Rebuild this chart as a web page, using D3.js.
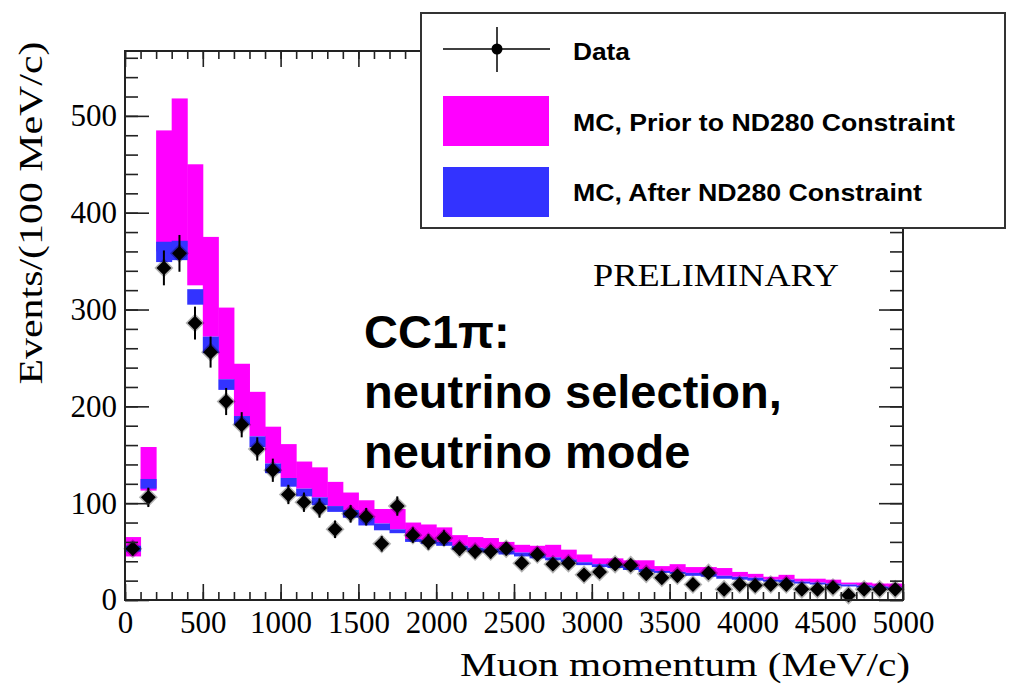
<!DOCTYPE html>
<html>
<head>
<meta charset="utf-8">
<script src="https://cdn.jsdelivr.net/npm/d3@7"></script>
<style>
  body { margin: 0; background: #fff; }
  svg { display: block; }
</style>
</head>
<body>
<div id="chart"></div>
<script>
// bins of 100 MeV/c, low edges
var binLow = [0,100,200,300,400,500,600,700,800,900,1000,1100,1200,1300,1400,1500,1600,1700,1800,1900,
              2000,2100,2200,2300,2400,2500,2600,2700,2800,2900,3000,3100,3200,3300,3400,3500,3600,3700,3800,3900,
              4000,4100,4200,4300,4400,4500,4600,4700,4800,4900];
var binWidth = 100;

var dataCounts = [53,106,343,358,286,256,205,181,156,134,109,101,95,73,89,86,58,97,67,60,
                  64,53,50,50,53,38,47,37,38,26,29,37,36,27,23,25,16,28,11,16,
                  15,16,16,11,11,13,5,11,11,11];
var dataErr = [7,10,18,19,17,16,14,13,12,12,10,10,10,9,9,9,8,10,8,8,
               8,7,7,7,7,6,7,6,6,5,5,6,6,5,5,5,4,5,3,4,
               4,4,4,3,3,4,2,3,3,3];

// MC prior to ND280 constraint (error band low / high)
var priorLow  = [45,113,360,365,325,272,228,190,169,141,126,115,106,97,93,85,79,73,63,62,
                 60,56,54,53,51,49,47,44,42,39,37,36,34,32,30,29,28,27,25,24,
                 23,21,21,19,18,17,16,15,14,13];
var priorHigh = [65,158,485,518,450,375,302,244,215,179,161,143,137,122,111,103,94,94,80,78,
                 75,67,65,64,60,57,56,57,52,47,43,43,41,41,35,37,34,34,33,29,
                 27,24,26,22,22,21,18,18,17,17];

// MC after ND280 constraint (error band low / high)
var afterLow  = [50,115,349,351,305,255,217,181,158,131,117,107,98,91,85,77,72,69,60,58,
                 56,52,50,49,47,45,43,41,39,36,34,33,31,29,28,27,25,24,22,21,
                 20,19,18,17,16,15,14,13,12,11];
var afterHigh = [56,125,370,371,321,272,228,190,169,141,126,115,106,97,93,85,79,73,63,62,
                 60,56,54,53,51,49,47,44,42,39,37,36,34,32,30,29,28,27,25,24,
                 23,21,21,19,18,17,16,15,14,13];

var xTicks = [0,500,1000,1500,2000,2500,3000,3500,4000,4500,5000];
var yTicks = [0,100,200,300,400,500];

var W = 1017, H = 686;
var frame = {left: 125, right: 903, top: 51, bottom: 600};

var svg = d3.select("#chart").append("svg")
    .attr("width", W)
    .attr("height", H);

var x = d3.scaleLinear().domain([0, 5000]).range([frame.left, frame.right]);
var y = d3.scaleLinear().domain([0, 567]).range([frame.bottom, frame.top]);

var bins = binLow.map(function(lo, i) {
  return {lo: lo, hi: lo + binWidth, n: dataCounts[i], err: dataErr[i],
          pLo: priorLow[i], pHi: priorHigh[i], aLo: afterLow[i], aHi: afterHigh[i]};
});

// prior band
svg.append("g").selectAll("rect")
  .data(bins).enter().append("rect")
    .attr("x", function(d) { return x(d.lo); })
    .attr("width", function(d) { return x(d.hi) - x(d.lo) + 0.5; })
    .attr("y", function(d) { return y(d.pHi); })
    .attr("height", function(d) { return y(d.pLo) - y(d.pHi); })
    .attr("fill", "#ff00ff");

// after band
svg.append("g").selectAll("rect")
  .data(bins).enter().append("rect")
    .attr("x", function(d) { return x(d.lo); })
    .attr("width", function(d) { return x(d.hi) - x(d.lo) + 0.5; })
    .attr("y", function(d) { return y(d.aHi); })
    .attr("height", function(d) { return y(d.aLo) - y(d.aHi); })
    .attr("fill", "#3333ff");

// data error bars
var pts = svg.append("g");
pts.selectAll("line")
  .data(bins).enter().append("line")
    .attr("x1", function(d) { return x(d.lo + binWidth / 2); })
    .attr("x2", function(d) { return x(d.lo + binWidth / 2); })
    .attr("y1", function(d) { return y(d.n - d.err); })
    .attr("y2", function(d) { return y(d.n + d.err); })
    .attr("stroke", "#000")
    .attr("stroke-width", 2);

// data markers (blurry diamonds in the original)
var diamond = d3.symbol().type(d3.symbolSquare).size(110);
pts.selectAll("path")
  .data(bins).enter().append("path")
    .attr("d", diamond)
    .attr("transform", function(d) {
      return "translate(" + x(d.lo + binWidth / 2) + "," + y(d.n) + ") rotate(45)";
    })
    .attr("fill", "#000")
    .attr("stroke", "rgba(0,0,0,0.3)")
    .attr("stroke-width", 3);

// axes: ROOT style, ticks inside, on all four sides
var xMinor = binLow.concat([5000]);
var yMinor = [0,20,40,60,80,100,120,140,160,180,200,220,240,260,280,300,320,340,360,380,
              400,420,440,460,480,500,520,540,560];

function cleanAxis(g) {
  g.select(".domain").remove();
  g.selectAll(".tick line").attr("stroke", "#222").attr("stroke-width", 1.6);
}

svg.append("g")
  .attr("transform", "translate(0," + frame.bottom + ")")
  .call(d3.axisBottom(x).tickValues(xMinor).tickSize(-8).tickFormat(""))
  .call(cleanAxis);
svg.append("g")
  .attr("transform", "translate(0," + frame.bottom + ")")
  .call(d3.axisBottom(x).tickValues(xTicks).tickSize(-16).tickPadding(11).tickFormat(d3.format("d")))
  .call(cleanAxis)
  .selectAll("text")
    .attr("font-family", "'Liberation Serif', 'Times New Roman', serif")
    .attr("font-size", 31)
    .attr("fill", "#000");

svg.append("g")
  .attr("transform", "translate(0," + frame.top + ")")
  .call(d3.axisTop(x).tickValues(xMinor).tickSize(-8).tickFormat(""))
  .call(cleanAxis);
svg.append("g")
  .attr("transform", "translate(0," + frame.top + ")")
  .call(d3.axisTop(x).tickValues(xTicks).tickSize(-16).tickFormat(""))
  .call(cleanAxis);

svg.append("g")
  .attr("transform", "translate(" + frame.left + ",0)")
  .call(d3.axisLeft(y).tickValues(yMinor).tickSize(-13).tickFormat(""))
  .call(cleanAxis);
svg.append("g")
  .attr("transform", "translate(" + frame.left + ",0)")
  .call(d3.axisLeft(y).tickValues(yTicks).tickSize(-24).tickPadding(8).tickFormat(d3.format("d")))
  .call(cleanAxis)
  .selectAll("text")
    .attr("font-family", "'Liberation Serif', 'Times New Roman', serif")
    .attr("font-size", 31)
    .attr("fill", "#000");

svg.append("g")
  .attr("transform", "translate(" + frame.right + ",0)")
  .call(d3.axisRight(y).tickValues(yMinor).tickSize(-13).tickFormat(""))
  .call(cleanAxis);
svg.append("g")
  .attr("transform", "translate(" + frame.right + ",0)")
  .call(d3.axisRight(y).tickValues(yTicks).tickSize(-24).tickFormat(""))
  .call(cleanAxis);

// frame
svg.append("rect")
  .attr("x", frame.left).attr("y", frame.top)
  .attr("width", frame.right - frame.left)
  .attr("height", frame.bottom - frame.top)
  .attr("fill", "none")
  .attr("stroke", "#222")
  .attr("stroke-width", 2);

// axis titles
svg.append("text")
  .attr("x", 910).attr("y", 676)
  .attr("text-anchor", "end")
  .attr("font-family", "'Liberation Serif', 'Times New Roman', serif")
  .attr("font-size", 33)
  .attr("textLength", 450)
  .attr("lengthAdjust", "spacingAndGlyphs")
  .text("Muon momentum (MeV/c)");

svg.append("text")
  .attr("transform", "translate(42,213) rotate(-90)")
  .attr("text-anchor", "middle")
  .attr("font-family", "'Liberation Serif', 'Times New Roman', serif")
  .attr("font-size", 33)
  .attr("textLength", 343)
  .attr("lengthAdjust", "spacingAndGlyphs")
  .text("Events/(100 MeV/c)");

// annotations
svg.append("text")
  .attr("x", 593).attr("y", 286)
  .attr("font-family", "'Liberation Serif', 'Times New Roman', serif")
  .attr("font-size", 32)
  .attr("textLength", 246)
  .attr("lengthAdjust", "spacingAndGlyphs")
  .text("PRELIMINARY");

var note = ["CC1π:", "neutrino selection,", "neutrino mode"];
svg.append("g").selectAll("text")
  .data(note).enter().append("text")
    .attr("x", 364)
    .attr("y", function(d, i) { return 348 + i * 60; })
    .attr("font-family", "'Liberation Sans', Arial, sans-serif")
    .attr("font-weight", "bold")
    .attr("font-size", 47)
    .text(function(d) { return d; });

// legend
var lg = svg.append("g");
lg.append("rect")
  .attr("x", 421).attr("y", 13)
  .attr("width", 584).attr("height", 215)
  .attr("fill", "#fff")
  .attr("stroke", "#333")
  .attr("stroke-width", 2);

lg.append("line").attr("x1", 443).attr("x2", 550).attr("y1", 49).attr("y2", 49)
  .attr("stroke", "#000").attr("stroke-width", 1.5);
lg.append("line").attr("x1", 497).attr("x2", 497).attr("y1", 27).attr("y2", 72)
  .attr("stroke", "#000").attr("stroke-width", 1.5);
lg.append("circle").attr("cx", 497).attr("cy", 49).attr("r", 5.5).attr("fill", "#000");

lg.append("rect").attr("x", 443).attr("y", 96).attr("width", 106).attr("height", 50)
  .attr("fill", "#ff00ff");
lg.append("rect").attr("x", 443).attr("y", 167).attr("width", 106).attr("height", 50)
  .attr("fill", "#3333ff");

var legendText = [
  {t: "Data", y: 60, w: 57},
  {t: "MC, Prior to ND280 Constraint", y: 131, w: 382},
  {t: "MC, After ND280 Constraint", y: 201, w: 349}
];
lg.selectAll("text.lab")
  .data(legendText).enter().append("text")
    .attr("class", "lab")
    .attr("x", 573)
    .attr("y", function(d) { return d.y; })
    .attr("font-family", "'Liberation Sans', Arial, sans-serif")
    .attr("font-weight", "bold")
    .attr("font-size", 24)
    .attr("textLength", function(d) { return d.w; })
    .attr("lengthAdjust", "spacingAndGlyphs")
    .text(function(d) { return d.t; });
</script>
</body>
</html>
